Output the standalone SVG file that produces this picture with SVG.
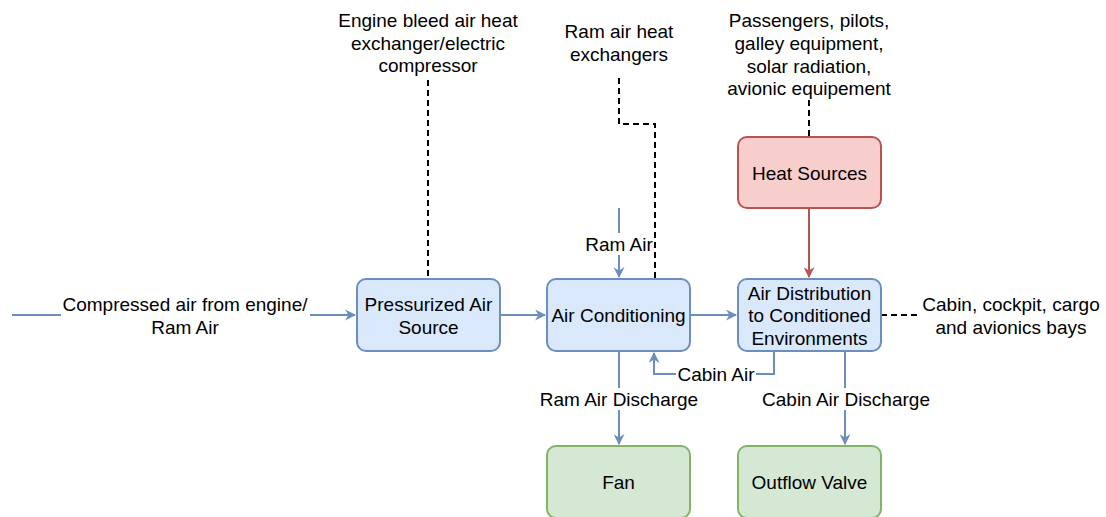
<svg xmlns="http://www.w3.org/2000/svg" width="1106" height="517" viewBox="0 0 1106 517">
  <defs>
    <marker id="arrowBlue" viewBox="0 0 10 10" refX="9" refY="5" markerWidth="11" markerHeight="11" markerUnits="userSpaceOnUse" orient="auto">
      <path d="M0,0 L10,5 L0,10 L3,5 Z" fill="#6c8ebf"/>
    </marker>
    <marker id="arrowRed" viewBox="0 0 10 10" refX="9" refY="5" markerWidth="11" markerHeight="11" markerUnits="userSpaceOnUse" orient="auto">
      <path d="M0,0 L10,5 L0,10 L3,5 Z" fill="#b85450"/>
    </marker>
  </defs>
  <style>
    text { font-family: "Liberation Sans", Arial, sans-serif; font-size: 19px; fill: #000; text-anchor: middle; dominant-baseline: central; }
    .box { stroke-width: 2; }
    .blue { fill: #dae8fc; stroke: #6c8ebf; }
    .red { fill: #f8cecc; stroke: #b85450; }
    .green { fill: #d5e8d4; stroke: #82b366; }
    .flow { fill: none; stroke: #6c8ebf; stroke-width: 2; }
    .heat { fill: none; stroke: #b85450; stroke-width: 2; }
    .dash { fill: none; stroke: #000; stroke-width: 2; stroke-dasharray: 6 4; }
    .lblbg { fill: #fff; }
  </style>
  <rect width="1106" height="517" fill="#fff"/>

  <!-- connectors -->
  <g id="connectors">
    <!-- supply air path -->
    <path class="flow" d="M12,315 H61"/>
    <path class="flow" d="M310,315 H355" marker-end="url(#arrowBlue)"/>
    <path class="flow" d="M500,315 H545" marker-end="url(#arrowBlue)"/>
    <path class="flow" d="M690,315 H736" marker-end="url(#arrowBlue)"/>
    <!-- ram air inlet -->
    <path class="flow" d="M619,208 V277" marker-end="url(#arrowBlue)"/>
    <!-- heat load -->
    <path class="heat" d="M809,208 V277" marker-end="url(#arrowRed)"/>
    <!-- recirculation -->
    <path class="flow" d="M774,351 V374 H654 V353" marker-end="url(#arrowBlue)"/>
    <!-- discharges -->
    <path class="flow" d="M619,351 V444" marker-end="url(#arrowBlue)"/>
    <path class="flow" d="M845,351 V444" marker-end="url(#arrowBlue)"/>
    <!-- associations -->
    <path class="dash" d="M428,80 V279"/>
    <path class="dash" d="M619,78 V124 H655 V279"/>
    <path class="dash" d="M809,100 V137"/>
    <path class="dash" d="M881,315 H918"/>

    <!-- edge labels -->
    <rect class="lblbg" x="584" y="233" width="70" height="22"/>
    <text x="619" y="244">Ram Air</text>
    <rect class="lblbg" x="676" y="363" width="80" height="22"/>
    <text x="716" y="374">Cabin Air</text>
    <rect class="lblbg" x="537" y="388" width="164" height="22"/>
    <text x="619" y="399">Ram Air Discharge</text>
    <rect class="lblbg" x="758" y="388" width="176" height="22"/>
    <text x="846" y="399">Cabin Air Discharge</text>
  </g>

  <!-- nodes -->
  <g id="compressed-air">
    <text x="185" y="304">Compressed air from engine/</text>
    <text x="185" y="327">Ram Air</text>
  </g>
  <g id="engine-bleed">
    <text x="428" y="20">Engine bleed air heat</text>
    <text x="428" y="43">exchanger/electric</text>
    <text x="428" y="65">compressor</text>
  </g>
  <g id="ram-air-hx">
    <text x="619" y="31">Ram air heat</text>
    <text x="619" y="54">exchangers</text>
  </g>
  <g id="heat-loads">
    <text x="809" y="20">Passengers, pilots,</text>
    <text x="809" y="43">galley equipment,</text>
    <text x="809" y="66">solar radiation,</text>
    <text x="809" y="88">avionic equipement</text>
  </g>
  <g id="conditioned-zones">
    <text x="1011" y="304">Cabin, cockpit, cargo</text>
    <text x="1011" y="327">and avionics bays</text>
  </g>
  <g id="pressurized-air-source">
    <rect class="box blue" x="357" y="279" width="143" height="72" rx="9"/>
    <text x="428.5" y="304">Pressurized Air</text>
    <text x="428.5" y="327">Source</text>
  </g>
  <g id="air-conditioning">
    <rect class="box blue" x="547" y="279" width="143" height="72" rx="9"/>
    <text x="618.5" y="315">Air Conditioning</text>
  </g>
  <g id="air-distribution">
    <rect class="box blue" x="738" y="279" width="143" height="72" rx="9"/>
    <text x="809.5" y="293">Air Distribution</text>
    <text x="809.5" y="315">to Conditioned</text>
    <text x="809.5" y="338">Environments</text>
  </g>
  <g id="heat-sources">
    <rect class="box red" x="738" y="137" width="143" height="71" rx="9"/>
    <text x="809.5" y="173">Heat Sources</text>
  </g>
  <g id="fan">
    <rect class="box green" x="547" y="446" width="143" height="72" rx="9"/>
    <text x="618.5" y="482">Fan</text>
  </g>
  <g id="outflow-valve">
    <rect class="box green" x="738" y="446" width="143" height="72" rx="9"/>
    <text x="809.5" y="482">Outflow Valve</text>
  </g>
</svg>
